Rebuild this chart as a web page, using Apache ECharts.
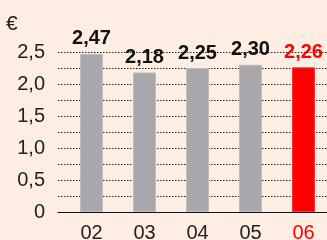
<!DOCTYPE html>
<html>
<head>
<meta charset="utf-8">
<script src="https://cdn.jsdelivr.net/npm/echarts@6/dist/echarts.min.js"></script>
<style>
  html, body { margin: 0; padding: 0; background: #fdede3; }
  #chart { width: 327px; height: 240px; }
</style>
</head>
<body>
<div id="chart"></div>
<script>
// data
const years = ["02", "03", "04", "05", "06"];
const values = [2.47, 2.18, 2.25, 2.30, 2.26];
const yTicks = [0, 0.5, 1.0, 1.5, 2.0, 2.5];

const grey = "#a8a7ab";
const red = "#ff0000";
const font = "Liberation Sans";

const chart = echarts.init(document.getElementById("chart"));

const option = {
  backgroundColor: "#fdede3",
  animation: false,
  textStyle: { fontFamily: font },
  graphic: [
    {
      type: "text",
      left: 6,
      top: 14,
      style: { text: "€", font: "21px " + font, fill: "#222" },
    },
  ],
  // v6 shrinks the grid to keep labels inside, the x labels are cut off in the picture so switch that off
  grid: { left: 58, right: 0, top: 52, bottom: 28, outerBoundsMode: "none", containLabel: false },
  xAxis: {
    type: "value",
    // category i sits at x = i; the range is stretched so bars land where the picture has them
    min: -0.632,
    max: 4.443,
    axisLine: { show: true, onZero: false, lineStyle: { color: "#111", width: 1.2 } },
    axisTick: { show: false },
    splitLine: { show: false },
    axisLabel: {
      customValues: [0, 1, 2, 3, 4],
      margin: 11,
      fontSize: 20,
      color: "#222",
      formatter: (v) => {
        const i = Math.round(v);
        return i === years.length - 1 ? "{r|" + years[i] + "}" : years[i];
      },
      rich: { r: { color: red, fontSize: 20 } },
    },
  },
  yAxis: {
    type: "value",
    min: 0,
    max: 2.5,
    interval: 0.25,
    axisLine: { show: false },
    axisTick: { show: false },
    splitLine: {
      show: true,
      lineStyle: { color: "#222", type: [1.5, 1.5], width: 1 },
    },
    axisLabel: {
      fontSize: 20,
      color: "#222",
      margin: 13,
      formatter: (v) => {
        if (yTicks.indexOf(Math.round(v * 100) / 100) < 0) return "";
        return v === 0 ? "0" : v.toFixed(1).replace(".", ",");
      },
    },
  },
  series: [
    {
      type: "bar",
      barWidth: 23,
      data: values.map((v, i) => ({
        value: [i, v],
        itemStyle: {
          color: i === values.length - 1 ? red : grey,
          borderColor: i === values.length - 1 ? "#ff3030" : "#bdbcbf",
          borderWidth: 1,
        },
        label: { color: i === values.length - 1 ? red : "#111" },
      })),
      label: {
        show: true,
        position: "top",
        distance: 5,
        fontSize: 20,
        fontWeight: "bold",
        formatter: (p) => p.value[1].toFixed(2).replace(".", ","),
      },
    },
  ],
};

chart.setOption(option);
</script>
</body>
</html>
